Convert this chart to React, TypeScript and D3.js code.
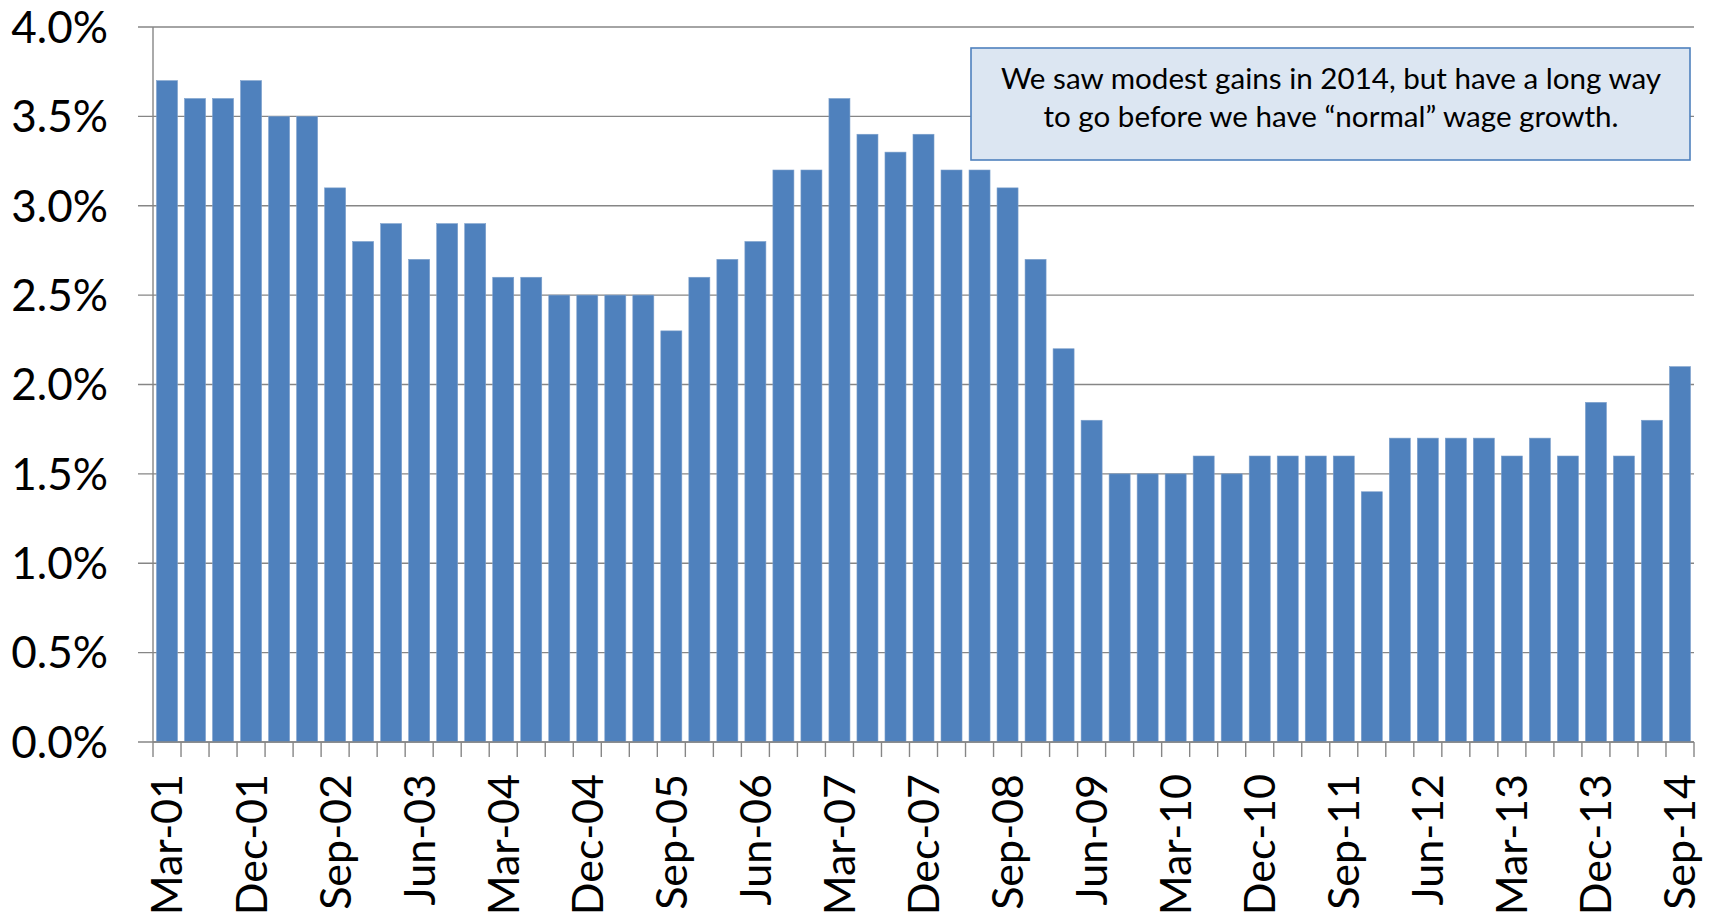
import { scaleBand, scaleLinear, range } from 'd3'

const width = 1711,
      height = 916,
      margin = { top: 27, right: 17, bottom: 174, left: 153 },
      innerWidth = width - margin.left - margin.right,
      innerHeight = height - margin.top - margin.bottom

// quarterly wage growth, Mar-01 .. Sep-14
const quarters = range(0, 55).map(i => {
  const m = ['Mar', 'Jun', 'Sep', 'Dec'][i % 4]
  const y = String(1 + Math.floor(i / 4)).padStart(2, '0')
  return `${m}-${y}`
})

const growth = [
  3.7, 3.6, 3.6, 3.7, 3.5, 3.5, 3.1, 2.8, 2.9, 2.7, 2.9, 2.9, 2.6, 2.6,
  2.5, 2.5, 2.5, 2.5, 2.3, 2.6, 2.7, 2.8, 3.2, 3.2, 3.6, 3.4, 3.3, 3.4,
  3.2, 3.2, 3.1, 2.7, 2.2, 1.8, 1.5, 1.5, 1.5, 1.6, 1.5, 1.6, 1.6, 1.6,
  1.6, 1.4, 1.7, 1.7, 1.7, 1.7, 1.6, 1.7, 1.6, 1.9, 1.6, 1.8, 2.1
]

const yTicks = [0, 0.5, 1.0, 1.5, 2.0, 2.5, 3.0, 3.5, 4.0]

const note = [
  'We saw modest gains in 2014, but have a long way',
  'to go before we have \u201cnormal\u201d wage growth.'
]

const font = 'Lato, "Open Sans", sans-serif'
const gridColor = '#868686'

export default function App() {
  const x = scaleBand<string>()
    .domain(quarters)
    .range([0, innerWidth])
    .paddingInner(0.25)
    .paddingOuter(0.125)

  const y = scaleLinear()
    .domain([0, 4])
    .range([innerHeight, 0])

  const step = x.step()

  return (
    <svg width={width} height={height}
         style={{ position: 'absolute', left: 0, top: 0, background: '#fff' }}>
      <g transform={`translate(${margin.left}, ${margin.top})`}>
        {/* gridlines + y ticks */}
        {yTicks.map(t => (
          <g key={t}>
            <line x1={-15} x2={innerWidth} y1={y(t)} y2={y(t)}
                  stroke={gridColor} strokeWidth={1.4} />
            <text x={-45} y={y(t)} dy='0.36em' textAnchor='end'
                  fontFamily={font} fontSize={44} fill='#000'>
              {t.toFixed(1)}%
            </text>
          </g>
        ))}

        {/* bars */}
        {growth.map((v, i) => (
          <rect key={i} x={x(quarters[i])} y={y(v)}
                width={x.bandwidth()} height={innerHeight - y(v)}
                fill='#4F81BD' stroke='#7da0cc' strokeWidth={0.6} />
        ))}

        {/* axes */}
        <line x1={0} x2={0} y1={0} y2={innerHeight} stroke={gridColor} strokeWidth={1.4} />
        <line x1={0} x2={innerWidth} y1={innerHeight} y2={innerHeight}
              stroke={gridColor} strokeWidth={1.4} />
        {range(0, quarters.length + 1).map(i => (
          <line key={i} x1={i * step} x2={i * step} y1={innerHeight} y2={innerHeight + 15}
                stroke={gridColor} strokeWidth={1.4} />
        ))}

        {/* x labels every third quarter */}
        {quarters.map((q, i) => i % 3 !== 0 ? null : (
          <text key={q}
                transform={`translate(${x(q)! + x.bandwidth() / 2}, ${innerHeight + 32}) rotate(-90)`}
                dy='0.36em' textAnchor='end' fontFamily={font} fontSize={43} fill='#000'>
            {q}
          </text>
        ))}
      </g>

      {/* annotation box */}
      <rect x={971} y={48} width={719} height={112} fill='#DCE6F2'
            stroke='#4F81BD' strokeWidth={1.6} />
      {note.map((s, i) => (
        <text key={i} x={1331} y={89 + i * 38} textAnchor='middle'
              fontFamily={font} fontSize={29.6} fill='#000'>
          {s}
        </text>
      ))}
    </svg>
  )
}
